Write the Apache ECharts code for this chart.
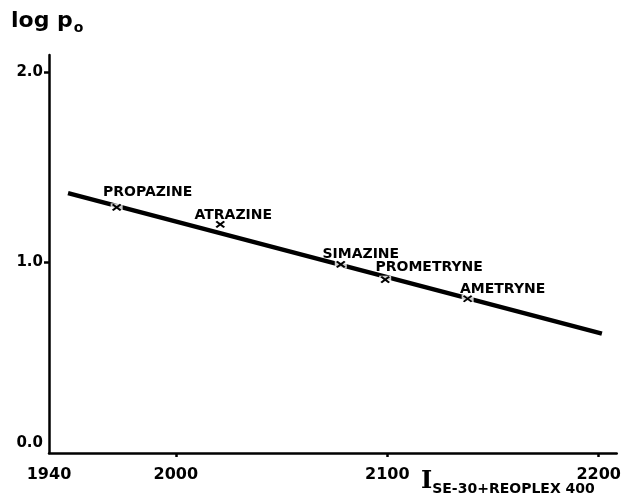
<!DOCTYPE html>
<html>
<head>
<meta charset="utf-8">
<script src="https://cdn.jsdelivr.net/npm/echarts@6/dist/echarts.min.js"></script>
<style>html,body{margin:0;padding:0;background:#fff}#c{width:624px;height:495px}</style>
</head>
<body>
<div id="c"></div>
<script>
// ---- data ----
var compounds = ['PROPAZINE', 'ATRAZINE', 'SIMAZINE', 'PROMETRYNE', 'AMETRYNE'];
var retentionIndex = [1972, 2021, 2078, 2099, 2138];
var logP = [1.29, 1.20, 0.99, 0.91, 0.81];
var fitLineX = [1949, 2201.5];
var fitLineY = [1.365, 0.627];
var xTickLabels = [1940, 2000, 2100, 2200];
var xTicks = [2000, 2100, 2200];
var yTickLabels = [0, 1, 2];
var yTicks = [1, 2];

// ---- style (label offsets relative to marker) ----
var labelOffsets = [[31, -15], [13, -9], [20, -10], [44, -12], [35, -9]];

var F = '"DejaVu Sans", sans-serif';
var chart = echarts.init(document.getElementById('c'), null, {renderer: 'canvas'});

var pts = retentionIndex.map(function (x, i) { return [x, logP[i]]; });
var labeled = pts.map(function (p, i) {
  return {
    value: p,
    label: {
      show: true, position: 'inside', offset: labelOffsets[i],
      formatter: compounds[i], color: '#000', textBorderWidth: 0, opacity: 1,
      fontFamily: F, fontWeight: 'bold', fontSize: 14
    }
  };
});

chart.setOption({
  backgroundColor: '#fff',
  animation: false,
  grid: {left: 49, top: 55, right: 7, bottom: 42},
  xAxis: {
    type: 'value', min: 1940, max: 2208.5,
    splitLine: {show: false},
    axisLine: {lineStyle: {color: '#000', width: 2.5}},
    axisTick: {show: true, customValues: xTicks, length: 4, lineStyle: {color: '#000', width: 2.5}},
    axisLabel: {
      customValues: xTickLabels, color: '#000', fontFamily: F, fontWeight: 'bold',
      fontSize: 16, margin: 14, showMaxLabel: true, showMinLabel: true,
      formatter: function (v) { return String(v); }
    }
  },
  yAxis: {
    type: 'value', min: 0, max: 2.09,
    splitLine: {show: false},
    axisLine: {lineStyle: {color: '#000', width: 2.5}},
    axisTick: {show: true, customValues: yTicks, length: 5, lineStyle: {color: '#000', width: 2.5}},
    axisLabel: {
      customValues: yTickLabels, color: '#000', fontFamily: F, fontWeight: 'bold',
      fontSize: 15, margin: 6,
      formatter: function (v) { return v === 0 ? '{z|0.0}' : v.toFixed(1); },
      rich: {z: {color: '#000', fontFamily: F, fontWeight: 'bold', fontSize: 15, padding: [0, 0, 20, 0]}}
    }
  },
  graphic: [
    {
      type: 'text', left: 11, top: 10,
      style: {
        text: '{a|log p}{s|o}',
        rich: {
          a: {fontFamily: F, fontWeight: 'bold', fontSize: 22, fill: '#000', verticalAlign: 'bottom'},
          s: {fontFamily: F, fontWeight: 'bold', fontSize: 14, fill: '#000', verticalAlign: 'bottom', padding: [0, 0, -3, 1]}
        }
      }
    },
    {
      type: 'text', left: 421, top: 470,
      style: {
        text: '{a|I}{s|SE-30+REOPLEX 400}',
        rich: {
          a: {fontFamily: '"DejaVu Serif", serif', fontWeight: 'bold', fontSize: 24, fill: '#000', verticalAlign: 'bottom'},
          s: {fontFamily: F, fontWeight: 'bold', fontSize: 14, fill: '#000', verticalAlign: 'bottom', padding: [0, 0, -2, 0]}
        }
      }
    }
  ],
  series: [
    {
      type: 'line', data: fitLineX.map(function (x, i) { return [x, fitLineY[i]]; }),
      symbol: 'none', lineStyle: {color: '#000', width: 4.5}, z: 2
    },
    {
      type: 'scatter', data: pts, symbol: 'rect', symbolSize: [12, 8],
      itemStyle: {color: '#fff'}, z: 3, silent: true
    },
    {
      type: 'scatter', data: labeled,
      symbol: 'path://M0,0L10,10M10,0L0,10', symbolSize: [8, 6],
      itemStyle: {color: 'none', borderColor: '#000', borderWidth: 2, opacity: 1}, z: 4
    }
  ]
});
</script>
</body>
</html>
